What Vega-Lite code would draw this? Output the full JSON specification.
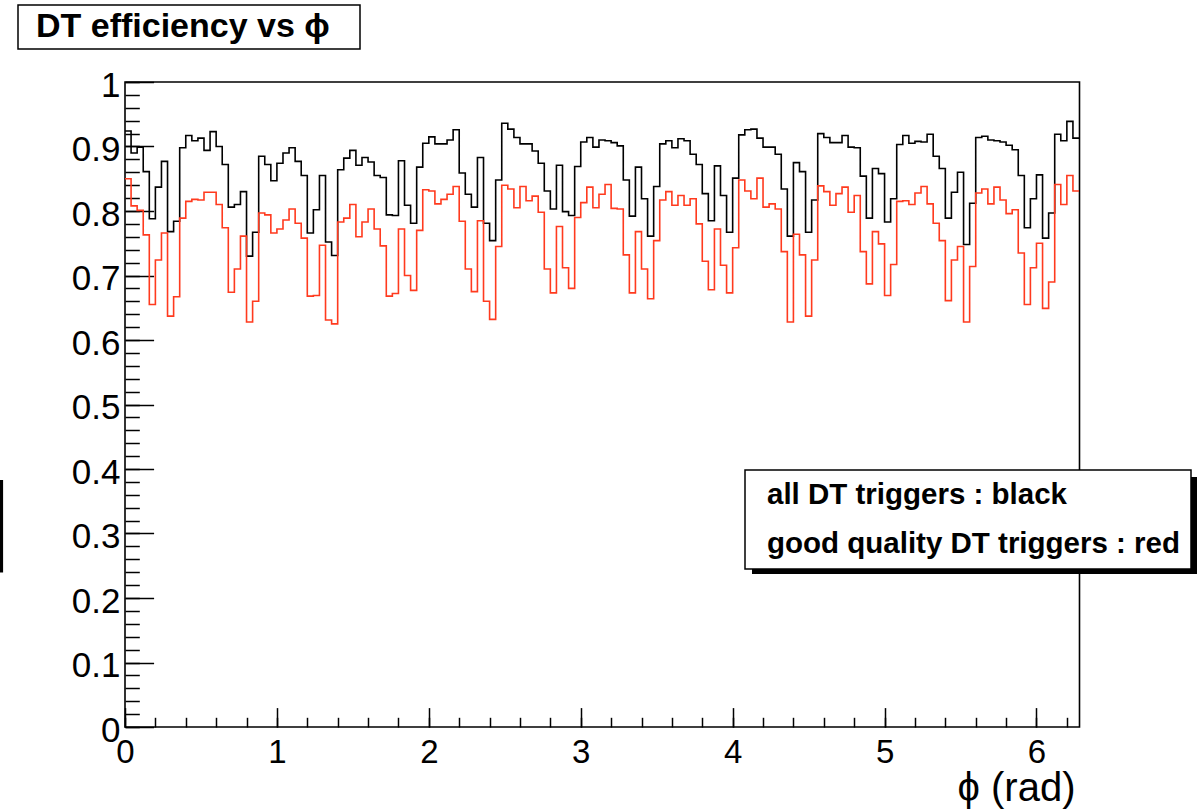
{
"$schema": "https://vega.github.io/schema/vega-lite/v6.json",
"width": 954.5,
"height": 645,
"autosize": {"type": "none"},
"padding": {"left": 125, "top": 82, "right": 123.5, "bottom": 82},
"background": "white",
"data": {"values": [
{"phi":0,"all":0.924,"good":0.850},{"phi":0.04,"all":0.890,"good":0.808},{"phi":0.08,"all":0.899,"good":0.801},{"phi":0.12,"all":0.861,"good":0.763},{"phi":0.16,"all":0.788,"good":0.655},{"phi":0.2,"all":0.837,"good":0.724},{"phi":0.24,"all":0.877,"good":0.766},{"phi":0.28,"all":0.768,"good":0.637},{"phi":0.32,"all":0.784,"good":0.667},{"phi":0.36,"all":0.898,"good":0.789},
{"phi":0.4,"all":0.917,"good":0.815},{"phi":0.44,"all":0.909,"good":0.818},{"phi":0.48,"all":0.913,"good":0.817},{"phi":0.52,"all":0.894,"good":0.829},{"phi":0.56,"all":0.923,"good":0.829},{"phi":0.6,"all":0.900,"good":0.810},{"phi":0.64,"all":0.872,"good":0.774},{"phi":0.68,"all":0.806,"good":0.674},{"phi":0.72,"all":0.810,"good":0.710},{"phi":0.76,"all":0.830,"good":0.761},
{"phi":0.8,"all":0.730,"good":0.628},{"phi":0.84,"all":0.767,"good":0.660},{"phi":0.88,"all":0.885,"good":0.797},{"phi":0.92,"all":0.872,"good":0.794},{"phi":0.96,"all":0.847,"good":0.766},{"phi":1.0,"all":0.874,"good":0.772},{"phi":1.04,"all":0.890,"good":0.786},{"phi":1.08,"all":0.898,"good":0.803},{"phi":1.12,"all":0.877,"good":0.781},{"phi":1.16,"all":0.855,"good":0.758},
{"phi":1.2,"all":0.766,"good":0.668},{"phi":1.24,"all":0.802,"good":0.669},{"phi":1.28,"all":0.855,"good":0.747},{"phi":1.32,"all":0.752,"good":0.631},{"phi":1.36,"all":0.731,"good":0.625},{"phi":1.4,"all":0.864,"good":0.783},{"phi":1.44,"all":0.882,"good":0.789},{"phi":1.48,"all":0.894,"good":0.810},{"phi":1.52,"all":0.871,"good":0.760},{"phi":1.56,"all":0.883,"good":0.783},
{"phi":1.6,"all":0.876,"good":0.803},{"phi":1.64,"all":0.855,"good":0.772},{"phi":1.68,"all":0.852,"good":0.746},{"phi":1.72,"all":0.794,"good":0.668},{"phi":1.76,"all":0.793,"good":0.672},{"phi":1.8,"all":0.878,"good":0.772},{"phi":1.84,"all":0.809,"good":0.700},{"phi":1.88,"all":0.781,"good":0.677},{"phi":1.92,"all":0.868,"good":0.770},{"phi":1.96,"all":0.905,"good":0.833},
{"phi":2.0,"all":0.915,"good":0.831},{"phi":2.04,"all":0.904,"good":0.811},{"phi":2.08,"all":0.904,"good":0.818},{"phi":2.12,"all":0.910,"good":0.826},{"phi":2.16,"all":0.926,"good":0.838},{"phi":2.2,"all":0.859,"good":0.784},{"phi":2.24,"all":0.826,"good":0.710},{"phi":2.28,"all":0.806,"good":0.675},{"phi":2.32,"all":0.883,"good":0.785},{"phi":2.36,"all":0.781,"good":0.660},
{"phi":2.4,"all":0.754,"good":0.632},{"phi":2.44,"all":0.848,"good":0.745},{"phi":2.48,"all":0.936,"good":0.840},{"phi":2.52,"all":0.927,"good":0.834},{"phi":2.56,"all":0.914,"good":0.805},{"phi":2.6,"all":0.904,"good":0.838},{"phi":2.64,"all":0.904,"good":0.816},{"phi":2.68,"all":0.893,"good":0.823},{"phi":2.72,"all":0.874,"good":0.798},{"phi":2.76,"all":0.831,"good":0.710},
{"phi":2.8,"all":0.803,"good":0.673},{"phi":2.84,"all":0.871,"good":0.776},{"phi":2.88,"all":0.799,"good":0.712},{"phi":2.92,"all":0.793,"good":0.680},{"phi":2.96,"all":0.869,"good":0.790},{"phi":3.0,"all":0.907,"good":0.813},{"phi":3.04,"all":0.914,"good":0.837},{"phi":3.08,"all":0.899,"good":0.805},{"phi":3.12,"all":0.910,"good":0.826},{"phi":3.16,"all":0.909,"good":0.841},
{"phi":3.2,"all":0.906,"good":0.804},{"phi":3.24,"all":0.901,"good":0.803},{"phi":3.28,"all":0.848,"good":0.732},{"phi":3.32,"all":0.792,"good":0.673},{"phi":3.36,"all":0.868,"good":0.768},{"phi":3.4,"all":0.819,"good":0.710},{"phi":3.44,"all":0.761,"good":0.664},{"phi":3.48,"all":0.838,"good":0.754},{"phi":3.52,"all":0.904,"good":0.817},{"phi":3.56,"all":0.909,"good":0.830},
{"phi":3.6,"all":0.898,"good":0.809},{"phi":3.64,"all":0.912,"good":0.824},{"phi":3.68,"all":0.909,"good":0.809},{"phi":3.72,"all":0.888,"good":0.819},{"phi":3.76,"all":0.872,"good":0.780},{"phi":3.8,"all":0.827,"good":0.722},{"phi":3.84,"all":0.785,"good":0.678},{"phi":3.88,"all":0.870,"good":0.772},{"phi":3.92,"all":0.824,"good":0.716},{"phi":3.96,"all":0.767,"good":0.673},
{"phi":4.0,"all":0.851,"good":0.743},{"phi":4.04,"all":0.918,"good":0.848},{"phi":4.08,"all":0.926,"good":0.831},{"phi":4.12,"all":0.927,"good":0.819},{"phi":4.16,"all":0.913,"good":0.851},{"phi":4.2,"all":0.899,"good":0.806},{"phi":4.24,"all":0.899,"good":0.811},{"phi":4.28,"all":0.888,"good":0.803},{"phi":4.32,"all":0.834,"good":0.737},{"phi":4.36,"all":0.761,"good":0.628},
{"phi":4.4,"all":0.875,"good":0.764},{"phi":4.44,"all":0.861,"good":0.732},{"phi":4.48,"all":0.767,"good":0.637},{"phi":4.52,"all":0.817,"good":0.724},{"phi":4.56,"all":0.920,"good":0.839},{"phi":4.6,"all":0.914,"good":0.830},{"phi":4.64,"all":0.906,"good":0.809},{"phi":4.68,"all":0.906,"good":0.827},{"phi":4.72,"all":0.917,"good":0.837},{"phi":4.76,"all":0.899,"good":0.798},
{"phi":4.8,"all":0.898,"good":0.824},{"phi":4.84,"all":0.854,"good":0.737},{"phi":4.88,"all":0.789,"good":0.687},{"phi":4.92,"all":0.866,"good":0.768},{"phi":4.96,"all":0.858,"good":0.749},{"phi":5.0,"all":0.783,"good":0.669},{"phi":5.04,"all":0.819,"good":0.717},{"phi":5.08,"all":0.903,"good":0.815},{"phi":5.12,"all":0.917,"good":0.816},{"phi":5.16,"all":0.905,"good":0.810},
{"phi":5.2,"all":0.908,"good":0.828},{"phi":5.24,"all":0.907,"good":0.838},{"phi":5.28,"all":0.919,"good":0.811},{"phi":5.32,"all":0.885,"good":0.781},{"phi":5.36,"all":0.866,"good":0.754},{"phi":5.4,"all":0.789,"good":0.661},{"phi":5.44,"all":0.829,"good":0.724},{"phi":5.48,"all":0.860,"good":0.745},{"phi":5.52,"all":0.748,"good":0.628},{"phi":5.56,"all":0.812,"good":0.714},
{"phi":5.6,"all":0.914,"good":0.828},{"phi":5.64,"all":0.916,"good":0.834},{"phi":5.68,"all":0.910,"good":0.811},{"phi":5.72,"all":0.909,"good":0.837},{"phi":5.76,"all":0.907,"good":0.817},{"phi":5.8,"all":0.902,"good":0.796},{"phi":5.84,"all":0.895,"good":0.802},{"phi":5.88,"all":0.855,"good":0.735},{"phi":5.92,"all":0.774,"good":0.655},{"phi":5.96,"all":0.819,"good":0.712},
{"phi":6.0,"all":0.856,"good":0.750},{"phi":6.04,"all":0.758,"good":0.649},{"phi":6.08,"all":0.797,"good":0.690},{"phi":6.12,"all":0.919,"good":0.841},{"phi":6.16,"all":0.909,"good":0.810},{"phi":6.2,"all":0.939,"good":0.855},{"phi":6.24,"all":0.913,"good":0.831},{"phi":6.28,"all":0.913,"good":0.831}
]},
"layer": [
{
"mark": {"type": "line", "interpolate": "step-after", "strokeWidth": 1.6},
"encoding": {
"x": {"field": "phi", "type": "quantitative", "scale": {"domain": [0, 6.2832], "nice": false, "zero": false},
"axis": {"orient": "bottom", "values": [0,1,2,3,4,5,6], "format": "d", "ticks": false, "domain": false, "grid": false, "labelFontSize": 33, "labelFont": "Liberation Sans", "labelColor": "black", "labelPadding": 9, "labelBaseline": "top", "labelFlush": false, "labelAlign": "center", "labelOverlap": false,
"title": "ϕ (rad)", "titleFontSize": 40, "titleFont": "Liberation Sans", "titleFontWeight": "normal", "titleColor": "black", "titleAnchor": "end", "titleAlign": "right", "titleX": 950, "titleY": 73, "titleBaseline": "alphabetic"}},
"y": {"field": "all", "type": "quantitative", "scale": {"domain": [0, 1], "nice": false, "zero": true},
"axis": {"orient": "left", "values": [0,0.1,0.2,0.3,0.4,0.5,0.6,0.7,0.8,0.9,1], "format": "~g", "ticks": false, "domain": false, "grid": false, "labelFontSize": 35, "labelFont": "Liberation Sans", "labelColor": "black", "labelPadding": 5, "labelOffset": 3, "labelAlign": "right", "labelBaseline": "middle", "labelFlush": false, "labelOverlap": false,
"title": "█", "titleFont": "DejaVu Sans", "titleFontSize": 78, "titleFontWeight": "normal", "titleColor": "black", "titleAngle": 0, "titleAlign": "center", "titleBaseline": "middle", "titleX": -153, "titleY": 447}},
"color": {"datum": "all DT triggers : black", "type": "nominal",
"scale": {"domain": ["all DT triggers : black", "good quality DT triggers : red"], "range": ["#000000", "#ff3a1e"]},
"legend": {"title": null, "orient": "none", "legendX": 620, "legendY": 388, "zindex": 2, "direction": "vertical", "strokeColor": "black", "fillColor": "white", "padding": 10, "rowPadding": 18, "labelFontSize": 29.5, "labelFontWeight": "bold", "labelFont": "Liberation Sans", "labelColor": "black", "labelLimit": 1000, "symbolOpacity": 0, "symbolSize": 1, "symbolType": "stroke", "labelOffset": -17.5}}
}
},
{
"mark": {"type": "line", "interpolate": "step-after", "strokeWidth": 1.6},
"encoding": {
"x": {"field": "phi", "type": "quantitative",
"axis": {"orient": "bottom", "values": [0,1,2,3,4,5,6], "ticks": true, "tickSize": -19.4, "tickWidth": 1.5, "tickColor": "black", "labels": false, "domain": false, "grid": false, "title": null}},
"y": {"field": "good", "type": "quantitative",
"axis": {"orient": "left", "values": [0,0.1,0.2,0.3,0.4,0.5,0.6,0.7,0.8,0.9,1], "ticks": true, "tickSize": -28.6, "tickWidth": 1.5, "tickColor": "black", "labels": false, "domain": false, "grid": false, "title": null}},
"color": {"datum": "good quality DT triggers : red", "type": "nominal"}
}
},
{
"mark": {"type": "line", "interpolate": "step-after", "opacity": 0},
"encoding": {
"x": {"field": "phi", "type": "quantitative",
"axis": {"orient": "bottom", "values": [0,0.2,0.4,0.6,0.8,1,1.2,1.4,1.6,1.8,2,2.2,2.4,2.6,2.8,3,3.2,3.4,3.6,3.8,4,4.2,4.4,4.6,4.8,5,5.2,5.4,5.6,5.8,6,6.2], "ticks": true, "tickSize": -9.7, "tickWidth": 1.5, "tickColor": "black", "labels": false, "domain": false, "grid": false, "title": null}},
"y": {"field": "all", "type": "quantitative",
"axis": {"orient": "left", "values": [0,0.02,0.04,0.06,0.08,0.1,0.12,0.14,0.16,0.18,0.2,0.22,0.24,0.26,0.28,0.3,0.32,0.34,0.36,0.38,0.4,0.42,0.44,0.46,0.48,0.5,0.52,0.54,0.56,0.58,0.6,0.62,0.64,0.66,0.68,0.7,0.72,0.74,0.76,0.78,0.8,0.82,0.84,0.86,0.88,0.9,0.92,0.94,0.96,0.98,1], "ticks": true, "tickSize": -14.3, "tickWidth": 1.5, "tickColor": "black", "labels": false, "domain": false, "grid": false, "title": null}},
"strokeDash": {"datum": "DT efficiency vs ϕ\u2800", "type": "nominal",
"scale": {"domain": ["DT efficiency vs ϕ\u2800"], "range": [[1, 0]]},
"legend": {"title": null, "orient": "none", "legendX": -107, "legendY": -77, "strokeColor": "black", "fillColor": "white", "padding": 5, "labelFontSize": 34, "labelFontWeight": "bold", "labelFont": "Liberation Sans", "labelColor": "black", "labelLimit": 1000, "symbolOpacity": 0, "symbolSize": 1, "symbolType": "stroke", "labelOffset": -21}}
}
},
{
"mark": {"type": "point", "filled": true, "color": "black", "size": 0, "strokeWidth": 0},
"encoding": {
"x": {"field": "phi", "type": "quantitative", "axis": null},
"y": {"field": "all", "type": "quantitative", "axis": null},
"shape": {"datum": "box", "type": "nominal",
"scale": {"domain": ["box"], "range": ["M-1,-0.218H1V0.218H-1Z"]},
"legend": {"title": null, "orient": "none", "legendX": 627, "legendY": 221, "zindex": 1, "padding": 0, "labelExpr": "''", "labelFontSize": 1, "symbolSize": 198025, "symbolOpacity": 1, "symbolFillColor": "black", "symbolStrokeColor": "black", "symbolStrokeWidth": 0}}
}
}
],
"resolve": {"axis": {"x": "independent", "y": "independent"}},
"config": {
"view": {"stroke": "black", "strokeWidth": 1.6},
"legend": {"strokeWidth": 1.5},
"font": "Liberation Sans"
}
}
